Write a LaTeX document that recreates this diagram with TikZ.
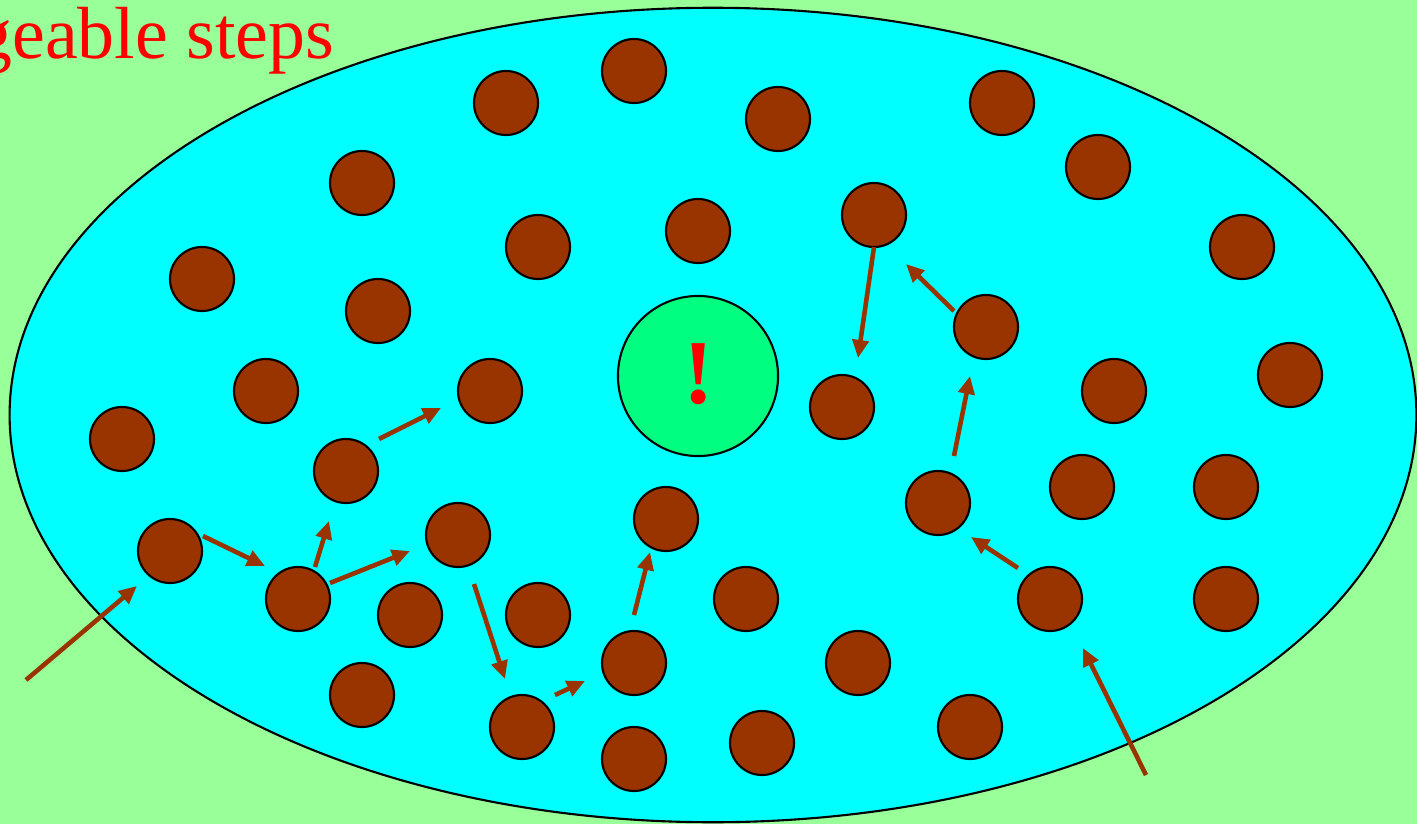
\documentclass[tikz,border=0pt]{standalone}
\usepackage{fontspec}
\setmainfont{Liberation Serif}
\usetikzlibrary{arrows.meta,calc}
\definecolor{bg}{HTML}{99FF99}
\definecolor{cyanfill}{HTML}{00FFFF}
\definecolor{goal}{HTML}{00FF80}
\definecolor{brownc}{HTML}{993300}
\tikzset{
  dot/.style={circle,draw=black,line width=0.6pt,fill=brownc,minimum size=0.64cm,inner sep=0pt},
  stepar/.style={draw=brownc,line width=1.3pt,-{Triangle[length=0.18cm,width=0.16cm]}},
}
\begin{document}
\begin{tikzpicture}[x=0.01cm,y=-0.01cm]
\useasboundingbox (0,0) rectangle (1417,824);
\clip (0,0) rectangle (1417,824);
\fill[bg] (0,0) rectangle (1417,824);
\draw[fill=cyanfill,line width=0.6pt] (713,415) ellipse [x radius=7.03cm, y radius=4.07cm];
\node[anchor=base east,text=red,font=\fontsize{21}{25}\selectfont,inner sep=0pt] (title) at (335,58) {geable steps};
\node[circle,draw=black,line width=0.6pt,fill=goal,minimum size=1.6cm,inner sep=0pt] (goal) at (698,376) {};
\node[text=red,font=\fontsize{26}{30}\selectfont\bfseries,inner sep=0pt] (bang) at (699,374) {!};
\foreach \n/\x/\y in {1/634/71,2/506/103,3/778/119,4/1002/103,5/1098/167,6/362/183,7/874/215,8/698/231,9/538/247,10/1242/247,11/202/279,12/378/311,13/986/327,14/266/391,15/490/391,16/842/407,17/1114/391,18/1290/375,19/122/439,20/346/471,21/938/503,22/1082/487,23/1226/487,24/170/551,25/458/535,26/666/519,27/298/599,28/410/615,29/538/615,30/746/599,31/1050/599,32/1226/599,33/634/663,34/858/663,35/362/695,36/522/727,37/970/727,38/634/759,39/762/743}
  \node[dot] (d\n) at (\x,\y) {};
\coordinate (sa) at (26,680);
\coordinate (sm) at (1146,775);
\draw[stepar] (sa) -- ($(d24)+(-33,35)$);
\draw[stepar] ($(d24)+(33,-15)$) -- ($(d27)+(-33,-33)$);
\draw[stepar] ($(d27)+(17,-32)$) -- ($(d20)+(-17,50)$);
\draw[stepar] ($(d27)+(32,-16)$) -- ($(d25)+(-48,16)$);
\draw[stepar] ($(d20)+(33,-32)$) -- ($(d15)+(-49,17)$);
\draw[stepar] ($(d25)+(16,49)$) -- ($(d36)+(-17,-48)$);
\draw[stepar] ($(d36)+(33,-32)$) -- ($(d33)+(-49,18)$);
\draw[stepar] ($(d33)+(0,-48)$) -- ($(d26)+(-16,33)$);
\draw[stepar] ($(d21)+(16,-47)$) -- ($(d13)+(-16,49)$);
\draw[stepar] ($(d31)+(-32,-31)$) -- ($(d21)+(33,34)$);
\draw[stepar] ($(d13)+(-32,-16)$) -- ($(d7)+(32,49)$);
\draw[stepar] ($(d7)+(0,32)$) -- ($(d16)+(16,-49)$);
\draw[stepar] (sm) -- ($(d31)+(33,49)$);
\end{tikzpicture}
\end{document}
